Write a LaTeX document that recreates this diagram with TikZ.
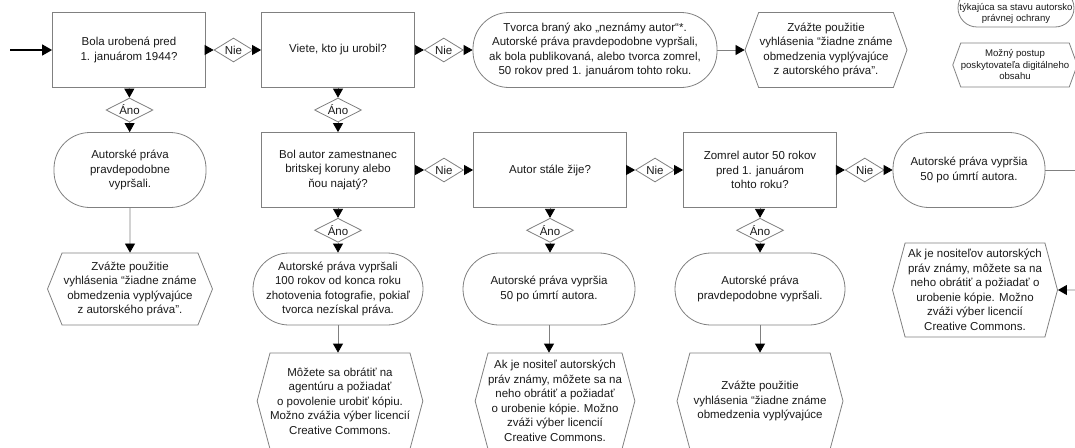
\documentclass[tikz,border=0pt]{standalone}
\usepackage{fontspec}
\setmainfont{Liberation Sans}
\usetikzlibrary{shapes.geometric,shapes.misc,shapes.symbols,arrows.meta,calc}
\definecolor{linegray}{HTML}{808080}
\definecolor{txt}{HTML}{1A1A1A}
\tikzset{
 base/.style={draw=linegray, line width=0.8pt, fill=white, text=txt, align=center, inner sep=0pt,
   font=\fontsize{11.5}{14.5}\selectfont},
 qbox/.style={base, rectangle, minimum width=153pt, minimum height=75pt},
 stad/.style={base, rectangle, rounded corners=36pt, minimum height=75pt},
 hexa/.style={base, signal, signal to=west and east, signal pointer angle=140, minimum height=75pt},
 dia/.style={base, diamond, shape aspect=1.7, minimum width=39pt, minimum height=24pt},
 adia/.style={dia, minimum width=47pt},
 arr/.style={draw=linegray, line width=0.8pt, -{Triangle[length=9pt,width=10pt,color=black]}},
 conn/.style={draw=linegray, line width=0.8pt},
 entry/.style={draw=black, line width=1.6pt, -{Triangle[length=10pt,width=11pt,color=black]}},
 legend/.style={font=\fontsize{9.6}{11.5}\selectfont},
}
\begin{document}
\begin{tikzpicture}[x=1pt,y=-1pt]
\useasboundingbox (0,0) rectangle (1075,447);
\clip (0,0) rectangle (1075,447);

% row 1
\node[qbox] (b1) at (129,50) {Bola urobená pred\\1. januárom 1944?};
\node[qbox] (b2) at (338,50) {Viete, kto ju urobil?};
\node[stad, minimum width=244pt] (s3) at (595,50) {Tvorca braný ako „neznámy autor“*.\\Autorské práva pravdepodobne vypršali,\\ak bola publikovaná, alebo tvorca zomrel,\\50 rokov pred 1. januárom tohto roku.};
\node[hexa, minimum width=162pt] (h4) at (826,50) {Zvážte použitie\\vyhlásenia “žiadne známe\\obmedzenia vyplývajúce\\z autorského práva”.};

% legend
\node[base, legend, rectangle, rounded corners=19pt, minimum width=116pt, minimum height=38pt] (l1) at (1016,8) {\phantom{X}\\týkajúca sa stavu autorsko\\právnej ochrany};
\node[base, legend, signal, signal to=west and east, signal pointer angle=140, minimum width=118pt, minimum height=44pt] (l2) at (1015,65) {Možný postup\\poskytovateľa digitálneho\\obsahu};

% row 2
\node[stad, minimum width=152pt] (s5) at (130,170) {Autorské práva\\pravdepodobne\\vypršali.};
\node[qbox] (b7) at (338,170) {Bol autor zamestnanec\\britskej koruny alebo\\ňou najatý?};
\node[qbox] (b10) at (550,170) {Autor stále žije?};
\node[qbox] (b11) at (760,170) {Zomrel autor 50 rokov\\pred 1. januárom\\tohto roku?};
\node[stad, minimum width=152pt] (s12) at (969,170) {Autorské práva vypršia\\50 po úmrtí autora.};

% row 3
\node[hexa, minimum width=165pt, minimum height=72pt, signal pointer angle=136] (h6) at (130,289) {Zvážte použitie\\vyhlásenia “žiadne známe\\obmedzenia vyplývajúce\\z autorského práva”.};
\node[stad, minimum width=170pt, minimum height=72pt] (s8) at (338,289) {Autorské práva vypršali\\100 rokov od konca roku\\zhotovenia fotografie, pokiaľ\\tvorca nezískal práva.};
\node[stad, minimum width=172pt, minimum height=72pt] (s13) at (549,289) {Autorské práva vypršia\\50 po úmrtí autora.};
\node[stad, minimum width=170pt, minimum height=72pt] (s15) at (760,289) {Autorské práva\\pravdepodobne vypršali.};
\node[hexa, minimum width=165pt, minimum height=94pt, signal pointer angle=150] (h17) at (975,290) {Ak je nositeľov autorských\\práv známy, môžete sa na\\neho obrátiť a požiadať o\\urobenie kópie. Možno\\zváži výber licencií\\Creative Commons.};

% row 4
\node[hexa, minimum width=164pt, minimum height=96pt, signal pointer angle=150] (h9) at (340,401) {Môžete sa obrátiť na\\agentúru a požiadať\\o povolenie urobiť kópiu.\\Možno zvážia výber licencií\\Creative Commons.};
\node[hexa, minimum width=152pt, minimum height=96pt, signal pointer angle=150] (h14) at (555,401) {Ak je nositeľ autorských\\práv známy, môžete sa na\\neho obrátiť a požiadať\\o urobenie kópie. Možno\\zváži výber licencií\\Creative Commons.};
\node[hexa, minimum width=166pt, minimum height=96pt, signal pointer angle=150] (h16) at (760,401) {Zvážte použitie\\vyhlásenia “žiadne známe\\obmedzenia vyplývajúce};

% decision diamonds
\node[dia] (n1) at ($(b1.east)!0.5!(b2.west)$) {Nie};
\node[dia] (n2) at ($(b2.east)!0.5!(s3.west)$) {Nie};
\node[dia] (n3) at ($(b7.east)!0.5!(b10.west)$) {Nie};
\node[dia] (n4) at ($(b10.east)!0.5!(b11.west)$) {Nie};
\node[dia] (n5) at ($(b11.east)!0.5!(s12.west)$) {Nie};
\node[adia] (a1) at ($(b1.south)!0.5!(s5.north)$) {Áno};
\node[adia] (a2) at ($(b2.south)!0.5!(b7.north)$) {Áno};
\node[adia] (a3) at ($(b7.south)!0.5!(s8.north)$) {Áno};
\node[adia] (a4) at ($(b10.south)!0.5!(b10.south |- s13.north)$) {Áno};
\node[adia] (a5) at ($(b11.south)!0.5!(s15.north)$) {Áno};

% free ends
\coordinate (in) at (10,50);
\coordinate (r1) at (1075,170);
\coordinate (r2) at (1075,290);

% connectors
\draw[entry] (in) -- (b1);
\draw[arr] (b1) -- (n1); \draw[arr] (n1) -- (b2);
\draw[arr] (b2) -- (n2); \draw[arr] (n2) -- (s3);
\draw[arr] (s3) -- (h4);
\draw[arr] (b1) -- (a1); \draw[arr] (a1) -- (s5);
\draw[arr] (s5) -- (h6);
\draw[arr] (b2) -- (a2); \draw[arr] (a2) -- (b7);
\draw[arr] (b7) -- (n3); \draw[arr] (n3) -- (b10);
\draw[arr] (b10) -- (n4); \draw[arr] (n4) -- (b11);
\draw[arr] (b11) -- (n5); \draw[arr] (n5) -- (s12);
\draw[arr] (b7) -- (a3); \draw[arr] (a3) -- (s8);
\draw[arr] (b10) -- (a4); \draw[arr] (a4) -- (a4 |- s13.north);
\draw[arr] (b11) -- (a5); \draw[arr] (a5) -- (s15);
\draw[arr] (s8.south) -- (s8.south |- h9.north);
\draw[arr] (s13.south) -- (s13.south |- h14.north);
\draw[arr] (s15.south) -- (s15.south |- h16.north);
\draw[conn] (s12) -- (r1);
\draw[arr] (r2) -- (h17);
\end{tikzpicture}
\end{document}
